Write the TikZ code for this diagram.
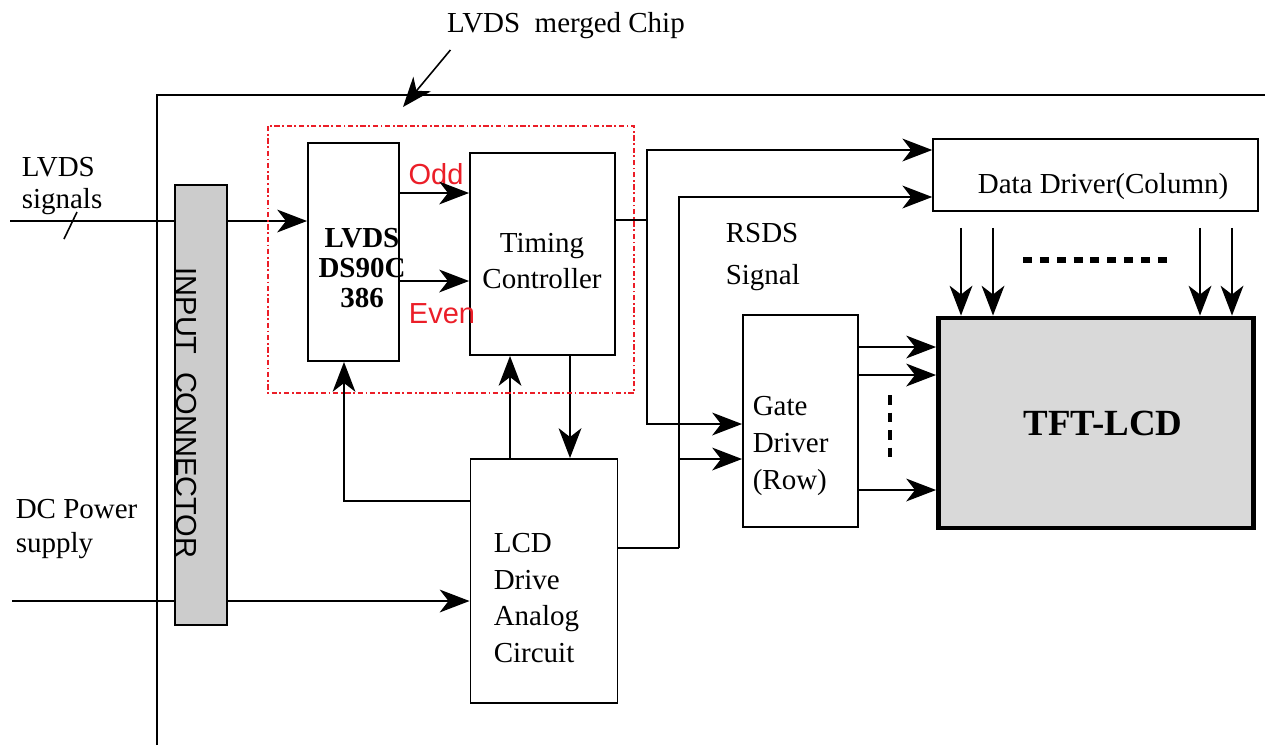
\documentclass[tikz,border=0pt]{standalone}
\usepackage{fontspec}
\setmainfont{Liberation Serif}
\setsansfont{Liberation Sans}
\usetikzlibrary{arrows.meta}
\definecolor{chipred}{RGB}{235,30,40}

\begin{document}
\begin{tikzpicture}[x=0.02cm,y=-0.02cm,line width=0.9pt,
  font=\fontsize{16.5}{21}\selectfont,
  >={Stealth[length=17pt,width=13pt,inset=5pt]},
  blk/.style={draw,line width=1.1pt,inner sep=0pt},
  txt/.style={inner sep=0pt}]
\useasboundingbox (0,0) rectangle (1277,745);
% outer frame and title
\draw[line width=1.1pt] (157,745)--(157,95)--(1265,95);
\node[txt] (title) at (566,26) {LVDS\ \ merged Chip};
\coordinate (chip) at (403,107);
\draw[->] ([shift={(4,10)}]title.south west)--(chip);

% blocks
\node[blk,minimum width=1.82cm,minimum height=4.36cm] (L) at (353.5,252) {};
\node[txt,font=\fontsize{16.5}{17}\selectfont\bfseries,align=center] (Lt) at (362,268) {LVDS\\DS90C\\386};
\node[blk,minimum width=2.9cm,minimum height=4.04cm] (T) at (542.5,254) {};
\node[txt,align=center] (Tt) at (542,261) {Timing\\Controller};
\node[blk,minimum width=2.94cm,minimum height=4.88cm] (A) at (544,581) {};
\node[txt,align=left,anchor=west] (At) at (493,598) {LCD\\Drive\\Analog\\Circuit};
\node[blk,minimum width=2.3cm,minimum height=4.24cm] (G) at (800.5,421) {};
\node[txt,align=left,anchor=west] (Gt) at (752,446) {Gate\\Driver\\(Row)};
\node[blk,line width=0.9pt,minimum width=6.5cm,minimum height=1.44cm] (D) at (1095.5,175) {};
\node[txt] (Dt) at (1103,187) {Data Driver(Column)};
\node[blk,line width=2.8pt,fill=gray!30,minimum width=6.3cm,minimum height=4.2cm] (F) at (1096,423) {};
\node[txt,font=\fontsize{21}{25}\selectfont\bfseries] (Ft) at (1103,423) {TFT-LCD};

% labels
\node[txt,align=left,anchor=west,font=\fontsize{16.5}{18}\selectfont] (sig) at (21,186) {LVDS\\signals};
\node[txt,align=left,anchor=west,font=\fontsize{16.5}{19}\selectfont] (dc) at (15,529) {DC Power\\supply};
\node[txt,align=left,anchor=west] (rsds) at (725,257) {RSDS\\[3pt]Signal};
\node[txt,font=\sffamily\fontsize{16.5}{20}\selectfont,text=chipred] (odd) at (436,174) {Odd};
\node[txt,font=\sffamily\fontsize{16.5}{20}\selectfont,text=chipred] (even) at (442,314) {Even};

% connectors
\coordinate (lin) at (10,221);
\coordinate (dcin) at (12,601);
\draw[->] (lin)--(lin-|L.west);
\draw (64,239)--(77,212);
\draw[->] (dcin)--(dcin-|A.west);
\draw[->] (L.east|-0,193)--(T.west|-0,193);
\draw[->] (L.east|-0,281)--(T.west|-0,281);
\draw[->] (A.west|-0,501) -| (L.south-|344,0);
\draw[->] (A.north-|510,0)--(T.south-|510,0);
\draw[->] (T.south-|570,0)--(A.north-|570,0);
\coordinate (j1) at (647,220);
\coordinate (j2) at (679,548);
\draw (T.east|-j1)--(j1);
\draw[->] (j1) |- (D.west|-0,150);
\draw[->] (j1) |- (G.west|-0,424);
\draw (A.east|-j2)--(j2);
\draw[->] (j2) |- (D.west|-0,197);
\draw[->] (j2|-0,459)--(G.west|-0,459);
\foreach \y in {347,375,490}
  \draw[->] (G.east|-0,\y)--(F.west|-0,\y);
\foreach \x in {961,993,1200,1232}
  \draw[->,shorten <=0.32cm] (D.south-|\x,0)--(F.north-|\x,0);
\draw[line width=2pt,dash pattern=on 5.5pt off 4.5pt] (890,395)--(890,461);
\draw[line width=3.4pt,dash pattern=on 5.1pt off 4.5pt] (1023,260)--(1172,260);

% connector bar and chip outline
\node[blk,fill=gray!40,minimum width=1.04cm,minimum height=8.8cm] (C) at (201,405) {};
\node[txt,font=\sffamily\fontsize{16.5}{20}\selectfont,rotate=-90] (Ct) at (186,413) {INPUT\hspace{0.6em}CONNECTOR};
\draw[chipred,line width=1.4pt,dash pattern=on 3pt off 1.5pt on 1pt off 1.5pt] (268,126) rectangle (634,393);
\end{tikzpicture}
\end{document}
